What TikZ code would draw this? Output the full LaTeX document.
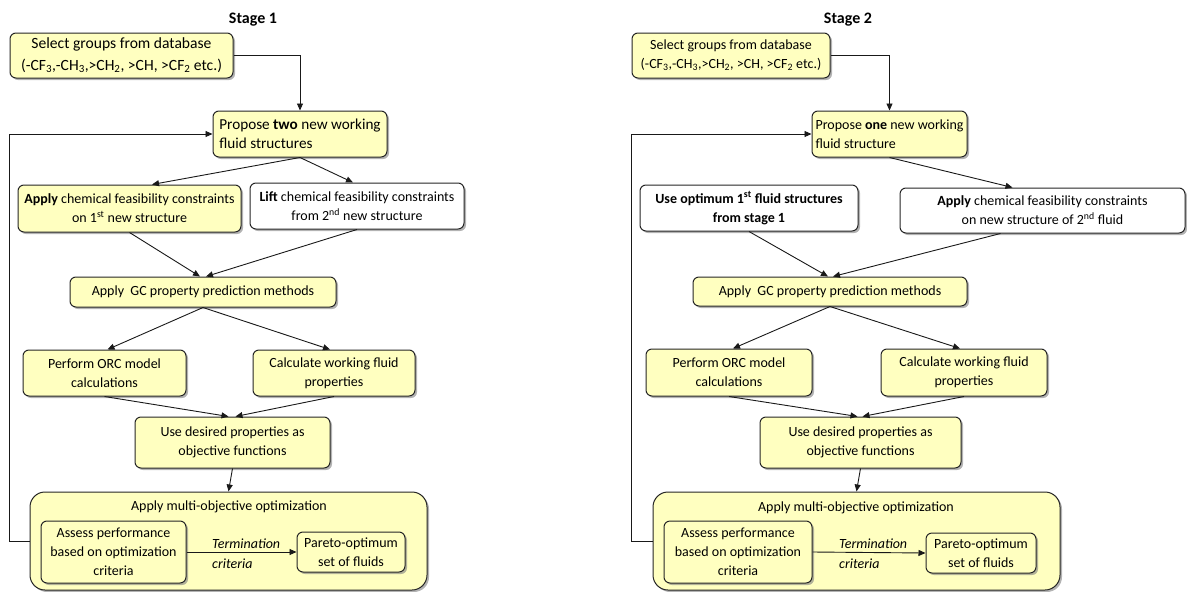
\documentclass[tikz,border=0pt]{standalone}
\usepackage{fontspec}
\setmainfont{Carlito}
\usetikzlibrary{arrows.meta,shadows,calc}
\definecolor{yfill}{RGB}{255,255,192}
\begin{document}
\begin{tikzpicture}[x=1pt,y=-1pt,
  txt/.style={font=\fontsize{14}{19}\selectfont},
  ttl/.style={font=\fontsize{16}{19}\selectfont\bfseries},
  box/.style={txt, draw=black!85, line width=1pt, rounded corners=6pt, fill=yfill,
    drop shadow={shadow xshift=2pt,shadow yshift=-2pt,fill=black!50,opacity=0.6},
    align=center, inner sep=2pt},
  wbox/.style={box, fill=white},
  bigbox/.style={draw=black!85, line width=1pt, rounded corners=15pt, fill=yfill,
    drop shadow={shadow xshift=2pt,shadow yshift=-2pt,fill=black!50,opacity=0.6}},
  arr/.style={draw=black!90, line width=0.9pt, -{Triangle[length=7pt,width=6pt]}},
  sz/.style 2 args={minimum width=#1pt, minimum height=#2pt}
]
\useasboundingbox (0,0) rectangle (1187,592);

% ---------------- Stage 1 ----------------
\node[ttl] (t1) at (253,20) {Stage 1};
\node[box, sz={223}{45}, font=\fontsize{15.6}{22}\selectfont] (sel1) at (121.5,55.5) {Select groups from database\\(-CF\textsubscript{3},-CH\textsubscript{3},>CH\textsubscript{2}, >CH, >CF\textsubscript{2} etc.)};
\node[box, sz={174}{46}, align=left, font=\fontsize{15.2}{19}\selectfont] (prop1) at (300,134) {Propose \textbf{two} new working\\fluid structures};
\node[box, sz={223}{47}] (app1) at (129.5,208.5) {\textbf{Apply} chemical feasibility constraints\\on 1\textsuperscript{st} new structure};
\node[wbox, sz={214}{46}] (lift1) at (357,206) {\textbf{Lift} chemical feasibility constraints\\from 2\textsuperscript{nd} new structure};
\node[box, sz={266}{30}] (gc1) at (203,292) {Apply\ \ GC property prediction methods};
\node[box, sz={163}{46}] (orc1) at (104.5,373) {Perform ORC model\\calculations};
\node[box, sz={162}{46}] (calc1) at (334,373) {Calculate working fluid\\properties};
\node[box, sz={195}{51}] (use1) at (232.5,442.5) {Use desired properties as\\objective functions};
\node[bigbox, sz={397}{98}] (big1) at (228.5,541) {};
\node[txt] (bt1) at (229,507) {Apply multi-objective optimization};
\node[box, sz={145}{62}] (ass1) at (113.5,552) {Assess performance\\based on optimization\\criteria};
\node[box, sz={108}{40}] (par1) at (351,552) {Pareto-optimum\\set of fluids};
\node[txt, anchor=west, align=left, inner sep=0pt, font=\fontsize{14}{20}\selectfont\itshape] (term1) at (212,554) {Termination\\criteria};

\draw[arr] (sel1.east) -| (prop1.north);
\draw[arr] (big1.west) -- ++(-20,0) |- (prop1.west);
\draw[arr] (prop1.south) -- ($(app1.north)+(22.5,0)$);
\draw[arr] (prop1.south) -- ($(lift1.north)+(-4,0)$);
\draw[arr] (app1.south) -- ($(gc1.north)+(-3,0)$);
\draw[arr] (lift1.south) -- ($(gc1.north)+(3,0)$);
\draw[arr] (gc1.south) -- ($(orc1.north)+(3,0)$);
\draw[arr] (gc1.south) -- ($(calc1.north)+(-4,0)$);
\draw[arr] (orc1.south) -- ($(use1.north)+(-4,0)$);
\draw[arr] (calc1.south) -- ($(use1.north)+(3,0)$);
\draw[arr] (use1.south) -- (big1.north);
\draw[arr] (ass1.east) -- (par1.west);

% ---------------- Stage 2 ----------------
\node[ttl] (t2) at (848,20) {Stage 2};
\node[box, sz={198}{45}] (sel2) at (731,55.5) {Select groups from database\\(-CF\textsubscript{3},-CH\textsubscript{3},>CH\textsubscript{2}, >CH, >CF\textsubscript{2} etc.)};
\node[box, sz={155}{46}, align=left] (prop2) at (889.5,134) {Propose \textbf{one} new working\\fluid structure};
\node[wbox, sz={218}{46}, font=\fontsize{14}{19}\selectfont\bfseries] (opt2) at (749,208) {Use optimum 1\textsuperscript{st} fluid structures\\from stage 1};
\node[wbox, sz={285}{45}] (app2) at (1042.5,210.5) {\textbf{Apply} chemical feasibility constraints\\on new structure of 2\textsuperscript{nd} fluid};
\node[box, sz={274}{29}] (gc2) at (830,291.5) {Apply\ \ GC property prediction methods};
\node[box, sz={166}{47}] (orc2) at (729,372.5) {Perform ORC model\\calculations};
\node[box, sz={166}{47}] (calc2) at (964,372.5) {Calculate working fluid\\properties};
\node[box, sz={201}{51}] (use2) at (860.5,442.5) {Use desired properties as\\objective functions};
\node[bigbox, sz={407}{98}] (big2) at (856.5,541) {};
\node[txt] (bt2) at (856,508) {Apply multi-objective optimization};
\node[box, sz={148}{62}] (ass2) at (738,552) {Assess performance\\based on optimization\\criteria};
\node[box, sz={110}{40}] (par2) at (981,553) {Pareto-optimum\\set of fluids};
\node[txt, anchor=west, align=left, inner sep=0pt, font=\fontsize{14}{20}\selectfont\itshape] (term2) at (839,554) {Termination\\criteria};

\draw[arr] (sel2.east) -| (prop2.north);
\draw[arr] (big2.west) -- ++(-21,0) |- (prop2.west);
\draw[arr] (prop2.south) -- ($(app2.north)+(-30,0)$);
\draw[arr] (opt2.south) -- ($(gc2.north)+(-2,0)$);
\draw[arr] ($(app2.south)+(-42,0)$) -- ($(gc2.north)+(3,0)$);
\draw[arr] (gc2.south) -- ($(orc2.north)+(4,0)$);
\draw[arr] (gc2.south) -- ($(calc2.north)+(-4,0)$);
\draw[arr] (orc2.south) -- ($(use2.north)+(-3,0)$);
\draw[arr] (calc2.south) -- ($(use2.north)+(2,0)$);
\draw[arr] (use2.south) -- (big2.north);
\draw[arr] (ass2.east) -- (par2.west);
\end{tikzpicture}
\end{document}
